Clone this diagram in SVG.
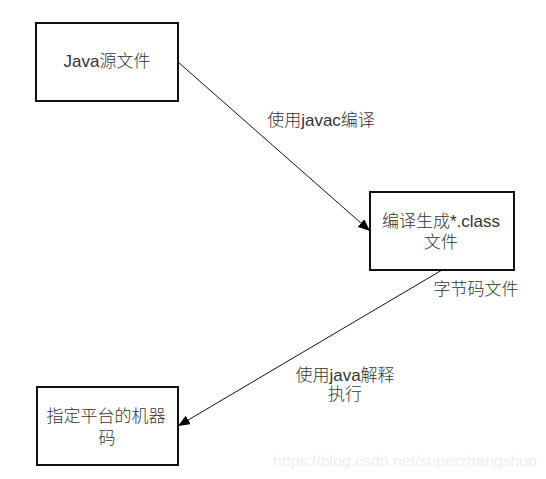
<svg xmlns="http://www.w3.org/2000/svg" width="546" height="479" viewBox="0 0 546 479">
<style>
.box{fill:#fff;stroke:#111;stroke-width:2}
.t{font-family:"Liberation Sans","Noto Sans CJK SC",sans-serif;font-size:17px;font-weight:300;fill:#333;text-anchor:middle}
.edge{stroke:#111;stroke-width:1;fill:none}
.wm{font-family:"Liberation Sans",Arial,sans-serif;font-size:15px;fill:#ededed}
</style>
<defs>
<marker id="arr" viewBox="0 0 12 10" refX="12" refY="5" markerWidth="12" markerHeight="10" markerUnits="userSpaceOnUse" orient="auto">
<path d="M0,0 L12,5 L0,10 z" fill="#000"/>
</marker>
</defs>
<rect width="546" height="479" fill="#fff"/>
<g id="connectors">
<line class="edge" x1="178" y1="62" x2="370" y2="231" marker-end="url(#arr)"/>
<line class="edge" x1="442" y1="270" x2="178" y2="426" marker-end="url(#arr)"/>
<text class="t" x="321" y="126">使用javac编译</text>
<text class="t" x="476" y="295">字节码文件</text>
<text class="t" x="345" y="381">使用java解释</text>
<text class="t" x="345" y="400">执行</text>
</g>
<g id="java-source">
<rect class="box" x="36" y="23" width="142" height="78"/>
<text class="t" x="107" y="67">Java源文件</text>
</g>
<g id="class-file">
<rect class="box" x="370" y="192" width="144" height="78"/>
<text class="t" x="441" y="227">编译生成*.class</text>
<text class="t" x="441" y="248">文件</text>
</g>
<g id="machine-code">
<rect class="box" x="37" y="387" width="141" height="78"/>
<text class="t" x="106" y="422">指定平台的机器</text>
<text class="t" x="107" y="444">码</text>
</g>
<text class="wm" x="273" y="466" textLength="264" lengthAdjust="spacingAndGlyphs">https://blog.csdn.net/superzhangshuo</text>
</svg>
